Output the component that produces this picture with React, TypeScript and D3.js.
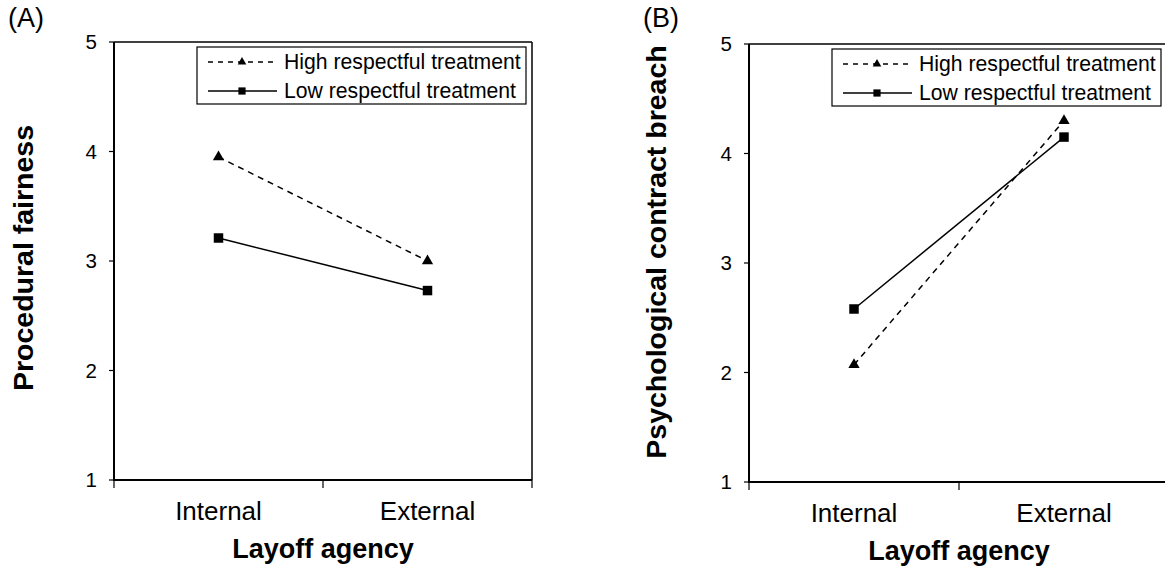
import * as d3 from "d3";

const categories = ["Internal", "External"];
const seriesNames = ["High respectful treatment", "Low respectful treatment"];
const fairnessHigh = [3.95, 3.0];
const fairnessLow = [3.21, 2.73];
const breachHigh = [2.07, 4.3];
const breachLow = [2.58, 4.15];
const yTicks = [1, 2, 3, 4, 5];

const FONT = "'Liberation Sans', Arial, sans-serif";

type PanelProps = {
  label: string;
  title: string;
  high: number[];
  low: number[];
  left: number;
  top: number;
  bottom: number;
  width: number;
  labelX: number;
  titleX: number;
  titleY: number;
};

function Panel({ label, title, high, low, left, top, bottom, width, labelX, titleX, titleY }: PanelProps) {
  const x = d3.scaleBand().domain(categories).range([left, left + width]).padding(0);
  const y = d3.scaleLinear().domain([1, 5]).range([bottom, top]);
  const cx = (c: string) => (x(c) as number) + x.bandwidth() / 2;

  const line = d3
    .line<number>()
    .x((_, i) => cx(categories[i]))
    .y((d) => y(d));

  const tri = d3.symbol().type(d3.symbolTriangle).size(55)();
  const sq = d3.symbol().type(d3.symbolSquare).size(90)();
  const triSmall = d3.symbol().type(d3.symbolTriangle).size(32)();
  const sqSmall = d3.symbol().type(d3.symbolSquare).size(52)();

  const boundaries = [left, left + x.bandwidth(), left + width];
  const lx = left + 83;
  const lw = 329;

  return (
    <g fontFamily={FONT}>
      <text x={labelX} y={27} fontSize={27}>
        {label}
      </text>
      {/* frame */}
      <line x1={left} x2={left + width} y1={top} y2={top} stroke="#000" strokeWidth={1.5} />
      <line x1={left + width} x2={left + width} y1={top} y2={bottom} stroke="#000" strokeWidth={1.5} />
      <line x1={left} x2={left} y1={top} y2={bottom + 1} stroke="#000" strokeWidth={2} />
      <line x1={left} x2={left + width} y1={bottom} y2={bottom} stroke="#000" strokeWidth={2} />
      {yTicks.map((t) => (
        <g key={t}>
          <line x1={left - 5} x2={left} y1={y(t)} y2={y(t)} stroke="#000" strokeWidth={1.2} />
          <text x={left - 17} y={y(t)} dy="0.35em" textAnchor="end" fontSize={20.5}>
            {t}
          </text>
        </g>
      ))}
      {boundaries.map((b, i) => (
        <line key={i} x1={b} x2={b} y1={bottom} y2={bottom + 8} stroke="#000" strokeWidth={1.2} />
      ))}
      {categories.map((c) => (
        <text key={c} x={cx(c)} y={bottom + 40} textAnchor="middle" fontSize={26}>
          {c}
        </text>
      ))}
      <text x={left + width / 2} y={bottom + 78} textAnchor="middle" fontSize={27} fontWeight="bold">
        Layoff agency
      </text>
      <text
        transform={`translate(${titleX},${titleY}) rotate(-90)`}
        textAnchor="middle"
        fontSize={28.5}
        fontWeight="bold"
      >
        {title}
      </text>
      {/* series */}
      <path d={line(high) || ""} fill="none" stroke="#000" strokeWidth={1.5} strokeDasharray="6,5" />
      <path d={line(low) || ""} fill="none" stroke="#000" strokeWidth={1.5} />
      {high.map((v, i) => (
        <path key={"h" + i} d={tri || ""} transform={`translate(${cx(categories[i])},${y(v)})`} fill="#000" />
      ))}
      {low.map((v, i) => (
        <path key={"l" + i} d={sq || ""} transform={`translate(${cx(categories[i])},${y(v)})`} fill="#000" />
      ))}
      {/* legend */}
      <rect x={lx} y={top + 5} width={lw} height={57} fill="#fff" stroke="#000" strokeWidth={1.2} />
      <line x1={lx + 11} x2={lx + 80} y1={top + 20} y2={top + 20} stroke="#000" strokeWidth={1.5} strokeDasharray="5,5" />
      <path d={triSmall || ""} transform={`translate(${lx + 45},${top + 20})`} fill="#000" />
      <text x={lx + 87} y={top + 20} dy="0.35em" fontSize={21.2}>
        {seriesNames[0]}
      </text>
      <line x1={lx + 11} x2={lx + 80} y1={top + 49} y2={top + 49} stroke="#000" strokeWidth={1.5} />
      <path d={sqSmall || ""} transform={`translate(${lx + 45},${top + 49})`} fill="#000" />
      <text x={lx + 87} y={top + 49} dy="0.35em" fontSize={21.2}>
        {seriesNames[1]}
      </text>
    </g>
  );
}

export default function App() {
  return (
    <svg
      width={1165}
      height={574}
      style={{ position: "absolute", left: 0, top: 0, background: "#fff" }}
    >
      <rect width={1165} height={574} fill="#fff" />
      <Panel
        label="(A)"
        title="Procedural fairness"
        high={fairnessHigh}
        low={fairnessLow}
        left={114}
        top={42}
        bottom={480}
        width={418}
        labelX={8}
        titleX={33}
        titleY={258}
      />
      <Panel
        label="(B)"
        title="Psychological contract breach"
        high={breachHigh}
        low={breachLow}
        left={749}
        top={44}
        bottom={482}
        width={420}
        labelX={643}
        titleX={666}
        titleY={252}
      />
    </svg>
  );
}
